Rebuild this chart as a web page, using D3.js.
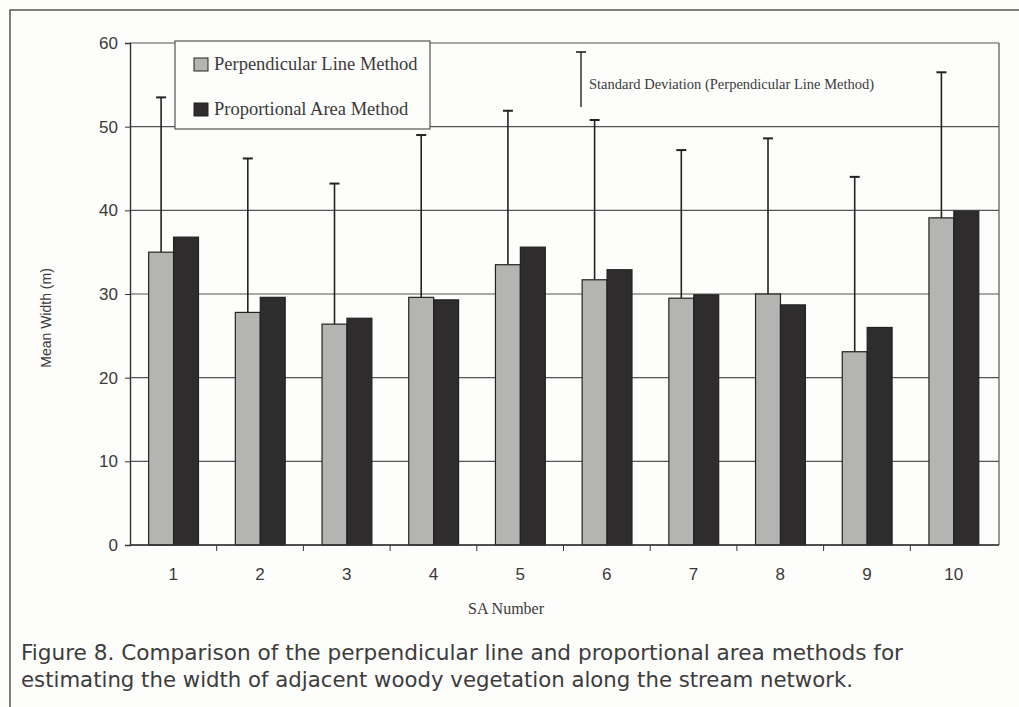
<!DOCTYPE html>
<html>
<head>
<meta charset="utf-8">
<script src="https://cdn.jsdelivr.net/npm/d3@7"></script>
<style>
  body { margin: 0; background: #fdfdfb; }
  svg { display: block; }
</style>
</head>
<body>
<div id="chart"></div>
<script>
const categories = ["1", "2", "3", "4", "5", "6", "7", "8", "9", "10"];
const series = ["Perpendicular Line Method", "Proportional Area Method"];
const perpendicular = [35.0, 27.8, 26.4, 29.6, 33.5, 31.7, 29.5, 30.0, 23.1, 39.1];
const proportional = [36.8, 29.6, 27.1, 29.3, 35.6, 32.9, 29.9, 28.7, 26.0, 39.9];
const sdTop = [53.5, 46.2, 43.2, 49.0, 51.9, 50.8, 47.2, 48.6, 44.0, 56.5];
const yTicks = [0, 10, 20, 30, 40, 50, 60];
const caption = [
  "Figure 8. Comparison of the perpendicular line and proportional area methods for",
  "estimating the width of adjacent woody vegetation along the stream network."
];

const width = 1019;
const height = 707;
const plotLeft = 130, plotRight = 999, plotTop = 43, plotBottom = 545;
const ink = "#3a3a3a";

const svg = d3.select("#chart")
  .append("svg")
  .attr("width", width)
  .attr("height", height);

// outer page frame
svg.append("path")
  .attr("d", "M10,707 L10,10 L1019,10")
  .attr("fill", "none")
  .attr("stroke", "#555")
  .attr("stroke-width", 1.5);

const x0 = d3.scaleBand()
  .domain(categories)
  .range([plotLeft, 997]);

const x1 = d3.scaleBand()
  .domain(series)
  .range([x0.bandwidth() * 0.215, x0.bandwidth() * 0.79]);

const y = d3.scaleLinear()
  .domain([0, 60])
  .range([plotBottom, plotTop]);

// gridlines
svg.append("g")
  .selectAll("line")
  .data(yTicks)
  .enter()
  .append("line")
  .attr("x1", plotLeft)
  .attr("x2", plotRight)
  .attr("y1", d => y(d))
  .attr("y2", d => y(d))
  .style("stroke", "#555")
  .style("stroke-width", 1.2);

// right border
svg.append("line")
  .attr("x1", plotRight).attr("x2", plotRight)
  .attr("y1", plotTop).attr("y2", plotBottom)
  .style("stroke", "#555")
  .style("stroke-width", 1.2);

// error bars (perpendicular line method)
const err = svg.append("g")
  .selectAll("g")
  .data(categories)
  .enter()
  .append("g")
  .attr("transform", d => `translate(${x0(d) + x1(series[0]) + x1.bandwidth() / 2},0)`);

err.append("line")
  .attr("y1", (d, i) => y(perpendicular[i]))
  .attr("y2", (d, i) => y(sdTop[i]))
  .style("stroke", "#222")
  .style("stroke-width", 1.6);

err.append("line")
  .attr("x1", -5).attr("x2", 5)
  .attr("y1", (d, i) => y(sdTop[i]))
  .attr("y2", (d, i) => y(sdTop[i]))
  .style("stroke", "#222")
  .style("stroke-width", 2);

// bars
const barData = categories.map((c, i) => [
  { cat: c, s: series[0], v: perpendicular[i] },
  { cat: c, s: series[1], v: proportional[i] }
]).flat();

const fills = { [series[0]]: "#b4b4b2", [series[1]]: "#2e2c2c" };

svg.append("g")
  .selectAll("rect")
  .data(barData)
  .enter()
  .append("rect")
  .attr("x", d => x0(d.cat) + x1(d.s))
  .attr("width", x1.bandwidth())
  .attr("y", d => y(d.v))
  .attr("height", d => y(0) - y(d.v))
  .style("fill", d => fills[d.s])
  .style("stroke", "#222")
  .style("stroke-width", 1.2);

// y axis
const yAxis = svg.append("g")
  .attr("transform", `translate(${plotLeft},0)`)
  .call(d3.axisLeft(y).tickValues(yTicks).tickSize(5).tickPadding(7));
yAxis.select(".domain").attr("stroke", "#333").attr("stroke-width", 1.4);
yAxis.selectAll(".tick line").attr("stroke", "#333");
yAxis.selectAll("text")
  .style("font-family", "Liberation Sans, Arial, sans-serif")
  .style("font-size", "17px")
  .style("fill", ink);

// x axis with ticks between categories
const xAxis = svg.append("g")
  .attr("transform", `translate(0,${plotBottom})`)
  .call(d3.axisBottom(x0).tickSize(0).tickPadding(23));
xAxis.select(".domain").attr("d", `M${plotLeft},0H${plotRight}`).attr("stroke", "#333").attr("stroke-width", 1.4);
xAxis.selectAll("text")
  .style("font-family", "Liberation Sans, Arial, sans-serif")
  .style("font-size", "17px")
  .style("fill", ink);

svg.append("g")
  .selectAll("line")
  .data(categories.slice(1))
  .enter()
  .append("line")
  .attr("x1", d => x0(d))
  .attr("x2", d => x0(d))
  .attr("y1", plotBottom)
  .attr("y2", plotBottom + 6)
  .style("stroke", "#333");

// axis titles
svg.append("text")
  .attr("transform", "translate(51,318) rotate(-90)")
  .attr("text-anchor", "middle")
  .style("font-family", "Liberation Sans, Arial, sans-serif")
  .style("font-size", "14px")
  .style("fill", ink)
  .text("Mean Width (m)");

svg.append("text")
  .attr("x", 506)
  .attr("y", 614)
  .attr("text-anchor", "middle")
  .style("font-family", "Liberation Serif, Times New Roman, serif")
  .style("font-size", "16px")
  .style("fill", ink)
  .text("SA Number");

// legend box
const legend = svg.append("g").attr("transform", "translate(175,41)");
legend.append("rect")
  .attr("width", 255)
  .attr("height", 88)
  .style("fill", "#fdfdfb")
  .style("stroke", "#555")
  .style("stroke-width", 1.2);

const items = legend.selectAll("g")
  .data(series)
  .enter()
  .append("g")
  .attr("transform", (d, i) => `translate(19,${17 + i * 45})`);

items.append("rect")
  .attr("width", 14)
  .attr("height", 13)
  .style("fill", d => fills[d])
  .style("stroke", "#222");

items.append("text")
  .attr("x", 20)
  .attr("y", 12)
  .style("font-family", "Liberation Serif, Times New Roman, serif")
  .style("font-size", "18.5px")
  .style("fill", ink)
  .text(d => d);

// standard deviation key
const sdKey = svg.append("g").attr("transform", "translate(581,0)");
sdKey.append("line")
  .attr("y1", 52).attr("y2", 107)
  .style("stroke", "#222")
  .style("stroke-width", 1.4);
sdKey.append("line")
  .attr("x1", -5).attr("x2", 5)
  .attr("y1", 52).attr("y2", 52)
  .style("stroke", "#222")
  .style("stroke-width", 1.6);
sdKey.append("text")
  .attr("x", 8)
  .attr("y", 89)
  .style("font-family", "Liberation Serif, Times New Roman, serif")
  .style("font-size", "14.5px")
  .style("fill", ink)
  .text("Standard Deviation (Perpendicular Line Method)");

// caption
svg.append("g")
  .selectAll("text")
  .data(caption)
  .enter()
  .append("text")
  .attr("x", 21)
  .attr("y", (d, i) => 660 + i * 27)
  .attr("textLength", (d, i) => i === 0 ? 882 : 832)
  .attr("lengthAdjust", "spacingAndGlyphs")
  .style("font-family", "DejaVu Sans Condensed, Liberation Sans Narrow, Arial, sans-serif")
  .style("font-size", "21px")
  .style("fill", "#3c3c3c")
  .text(d => d);
</script>
</body>
</html>
